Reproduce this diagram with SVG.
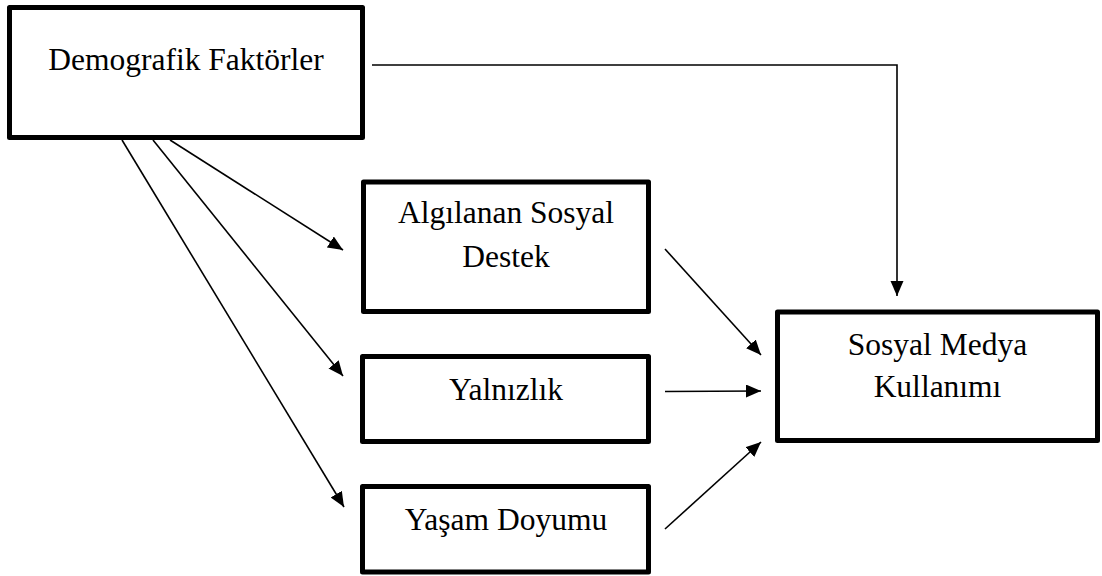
<svg xmlns="http://www.w3.org/2000/svg" width="1102" height="576" viewBox="0 0 1102 576">
<style>
.box{fill:#fff;stroke:#000;stroke-width:5;stroke-linejoin:round}
.t{font-family:"Liberation Serif","Times New Roman",Times,Tinos,"Noto Serif","DejaVu Serif",FreeSerif,serif;font-size:31.5px;fill:#000;text-anchor:middle}
.c{fill:none;stroke:#000;stroke-width:1.6}
</style>
<defs>
<marker id="ah" markerUnits="userSpaceOnUse" markerWidth="16" markerHeight="14" refX="15" refY="6.5" orient="auto">
<path d="M0,0 L15,6.5 L0,13 Z" fill="#000"/>
</marker>
</defs>
<rect width="1102" height="576" fill="#fff"/>
<g id="connectors">
<polyline class="c" points="372,65 897,65 897,296" marker-end="url(#ah)"/>
<line class="c" x1="170" y1="140" x2="343" y2="250" marker-end="url(#ah)"/>
<line class="c" x1="153" y1="140" x2="343" y2="376" marker-end="url(#ah)"/>
<line class="c" x1="122" y1="140" x2="344" y2="507" marker-end="url(#ah)"/>
<line class="c" x1="665" y1="249" x2="761" y2="355" marker-end="url(#ah)"/>
<line class="c" x1="665" y1="391.5" x2="761" y2="391" marker-end="url(#ah)"/>
<line class="c" x1="665" y1="529" x2="761" y2="442" marker-end="url(#ah)"/>
</g>
<g id="demografik">
<rect class="box" x="9.5" y="7.5" width="353" height="130"/>
<text class="t" x="186" y="70">Demografik Faktörler</text>
</g>
<g id="algilanan">
<rect class="box" x="363.5" y="182" width="285" height="129.5"/>
<text class="t" x="506" y="223">Algılanan Sosyal</text>
<text class="t" x="506" y="267">Destek</text>
</g>
<g id="yalnizlik">
<rect class="box" x="362.5" y="356.5" width="286" height="85"/>
<text class="t" x="506" y="399.5">Yalnızlık</text>
</g>
<g id="yasam">
<rect class="box" x="362.5" y="486.5" width="286" height="85.5"/>
<text class="t" x="506" y="529.5">Yaşam Doyumu</text>
</g>
<g id="sosyalmedya">
<rect class="box" x="777.5" y="312" width="320" height="128.5"/>
<text class="t" x="937.5" y="355">Sosyal Medya</text>
<text class="t" x="937.5" y="397">Kullanımı</text>
</g>
</svg>
